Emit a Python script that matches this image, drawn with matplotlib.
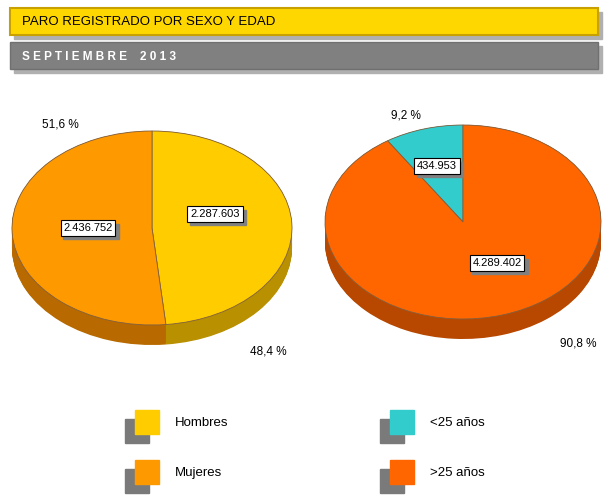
import numpy as np
import matplotlib.pyplot as plt
from matplotlib.patches import Rectangle

sexo_labels = ['Hombres', 'Mujeres']
sexo_values = [2287603, 2436752]
sexo_text = ['2.287.603', '2.436.752']
sexo_pct = ['48,4 %', '51,6 %']
sexo_colors = ['#FFCC00', '#FF9900']
sexo_side = ['#B89000', '#B86A00']

edad_labels = ['<25 años', '>25 años']
edad_values = [434953, 4289402]
edad_text = ['434.953', '4.289.402']
edad_pct = ['9,2 %', '90,8 %']
edad_colors = ['#33CCCC', '#FF6600']
edad_side = ['#209090', '#B84800']

W, H = 610, 501
fig = plt.figure(figsize=(W / 100, H / 100), dpi=100)
fig.patch.set_facecolor('white')

# overlay in pixel coordinates
ov = fig.add_axes([0, 0, 1, 1], zorder=5)
ov.set_xlim(0, W)
ov.set_ylim(H, 0)
ov.axis('off')

# header bars
ov.add_patch(Rectangle((14, 12), 588, 27, color='#B0B0B0', zorder=1))
ov.add_patch(Rectangle((10, 8), 588, 27, facecolor='#FFD700', edgecolor='#C8A000', lw=1.5, zorder=2))
ov.text(22, 22, 'PARO REGISTRADO POR SEXO Y EDAD', fontsize=9.5, va='center', zorder=3,
        family='Liberation Sans')
ov.add_patch(Rectangle((14, 46), 588, 27, color='#B0B0B0', zorder=1))
ov.add_patch(Rectangle((10, 42), 588, 27, facecolor='#808080', edgecolor='#707070', lw=1, zorder=2))
ov.text(22, 57, 'S E P T I E M B R E    2 0 1 3', fontsize=8.5, va='center', color='white',
        fontweight='bold', zorder=3, family='Liberation Sans')


def pie3d(cx, cy, rx, ry, depth, values, colors, sides, counterclock):
    ax = fig.add_axes([(cx - rx) / W, (H - (cy + ry + depth)) / H, 2 * rx / W, (2 * ry + depth) / H])
    for k in np.linspace(depth / ry, 0, 25):
        ax.pie(values, colors=sides, startangle=90, counterclock=counterclock,
               center=(0, -k), radius=1, wedgeprops=dict(linewidth=0), frame=True)
    ax.pie(values, colors=colors, startangle=90, counterclock=counterclock,
           radius=1, wedgeprops=dict(linewidth=0.6, edgecolor='#806040'), frame=True)
    ax.set_aspect('auto')
    ax.set_xlim(-1, 1)
    ax.set_ylim(-1 - depth / ry, 1)
    ax.axis('off')


pie3d(152, 228, 140, 97, 20, sexo_values, sexo_colors, sexo_side, False)
pie3d(463, 222, 138, 97, 20, edad_values, edad_colors, edad_side, True)


def box(x, y, s):
    ov.text(x, y, s, fontsize=8, ha='center', va='center', zorder=6, family='Liberation Sans',
            bbox=dict(boxstyle='square,pad=0.25', facecolor='white', edgecolor='black', lw=0.8))
    w = 5.6 * len(s) + 6
    ov.add_patch(Rectangle((x - w / 2 + 3, y - 7 + 3), w, 15, color='#808080', zorder=5.5))


box(215, 214, sexo_text[0])
box(88, 228, sexo_text[1])
box(437, 166, edad_text[0])
box(497, 263, edad_text[1])

for x, y, s in [(268, 352, sexo_pct[0]), (60, 124, sexo_pct[1]),
                (406, 115, edad_pct[0]), (578, 343, edad_pct[1])]:
    ov.text(x, y, s, fontsize=8.5, ha='center', va='center', family='Liberation Sans')

# legend
leg = [(135, 410, sexo_labels[0], sexo_colors[0]), (135, 460, sexo_labels[1], sexo_colors[1]),
       (390, 410, edad_labels[0], edad_colors[0]), (390, 460, edad_labels[1], edad_colors[1])]
for x, y, s, c in leg:
    ov.add_patch(Rectangle((x - 10, y + 9), 24, 24, color='#7a7a7a', zorder=1))
    ov.add_patch(Rectangle((x, y), 24, 24, color=c, zorder=2))
    ov.text(x + 40, y + 13, s, fontsize=9.5, va='center', family='Liberation Sans')

fig.savefig('out.png', dpi=100)
